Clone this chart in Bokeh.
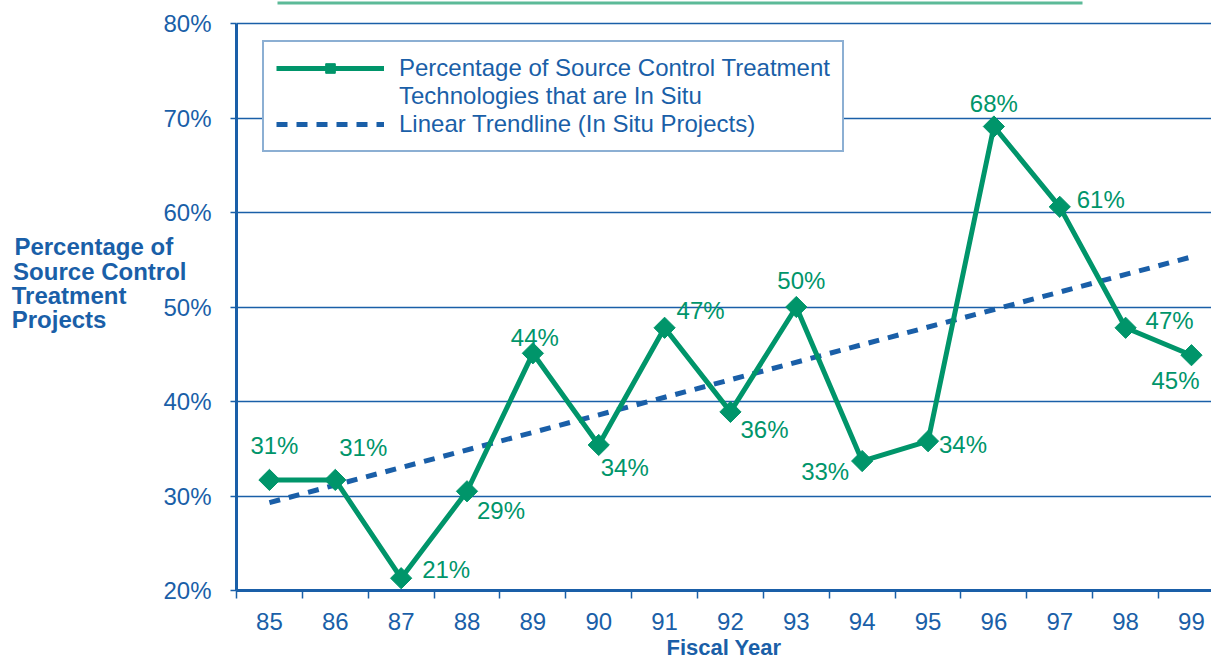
from bokeh.plotting import figure
from bokeh.models import (ColumnDataSource, FixedTicker, PrintfTickFormatter, Range1d,
                          Legend, LegendItem, BoxAnnotation)
from bokeh.embed import file_html
from bokeh.resources import INLINE
from bokeh.core.properties import value

# ---------------- data ----------------
years = [85, 86, 87, 88, 89, 90, 91, 92, 93, 94, 95, 96, 97, 98, 99]
pct_in_situ = [31.7, 31.7, 21.3, 30.5, 45.1, 35.4, 47.8, 38.9, 50.0, 33.7, 35.8, 69.1, 60.6, 47.8, 44.9]
point_labels = ["31%", "31%", "21%", "29%", "44%", "34%", "47%", "36%", "50%",
                "33%", "34%", "68%", "61%", "47%", "45%"]
trend_years = [85, 99]
trend_pct = [29.3, 55.3]
y_ticks = [20, 30, 40, 50, 60, 70, 80]
y_title_lines = ["Percentage of", "Source Control", "Treatment", "Projects"]

# label placement (style): pixel offsets from each point
lab_dx = [5, 28, 45, 34, 2, 26, 36, 34, 5, -37, 35, 0, 41, 44, -16]
lab_dy = [-34, -32, -9, 19, -16, 23, -17, 18, -27, 10, 3, -23, -7, -7, 25]

BLUE = "#1a5fa8"
GREEN = "#00956a"
LIGHT_GREEN = "#5cba98"
FONT = "Liberation Sans"
NBSP = "\u00a0"

# layout geometry (pixels)
W, H = 1211, 662
FRAME_LEFT, FRAME_BOTTOM_BORDER = 236, 72
PX_PER_PCT = 9.45          # vertical scale
PX_PER_YEAR = 65.86        # horizontal scale
TOP_GAP_PX = 23            # space above the 80% line
frame_h = H - FRAME_BOTTOM_BORDER
y_top = y_ticks[-1] + TOP_GAP_PX / PX_PER_PCT
x_start = years[0] - 0.5
x_end = x_start + (W - FRAME_LEFT) / PX_PER_YEAR

src = ColumnDataSource(dict(x=years, y=pct_in_situ, lab=point_labels, dx=lab_dx, dy=lab_dy))
tsrc = ColumnDataSource(dict(x=trend_years, y=trend_pct))

p = figure(width=W, height=H, output_backend="svg", toolbar_location=None,
           x_range=Range1d(x_start, x_end), y_range=Range1d(y_ticks[0], y_top),
           min_border_left=FRAME_LEFT, min_border_right=0, min_border_top=0,
           min_border_bottom=FRAME_BOTTOM_BORDER, outline_line_color=None,
           background_fill_color="white", border_fill_color="white")

# decorative rule along the very top of the page
p.add_layout(BoxAnnotation(left=x_start + 41 / PX_PER_YEAR, right=x_start + 846 / PX_PER_YEAR,
                           top=y_top - 1 / PX_PER_PCT, bottom=y_top - 4 / PX_PER_PCT,
                           fill_color=LIGHT_GREEN, fill_alpha=1.0, line_color=None))

# trendline
tr = p.line("x", "y", source=tsrc, line_color=BLUE, line_width=5, line_dash="11 9")
# series
ln = p.line("x", "y", source=src, line_color=GREEN, line_width=5)
mk = p.scatter("x", "y", source=src, marker="square", angle=0.785398, size=15,
               fill_color=GREEN, line_color=GREEN)
p.text("x", "y", text="lab", source=src, x_offset="dx", y_offset="dy",
       text_align="center", text_baseline="middle", text_color=GREEN,
       text_font=value(FONT), text_font_size="24px")

# axes
xa = p.xaxis[0]
xa.ticker = FixedTicker(ticks=years, minor_ticks=[y - 0.5 for y in years] + [years[-1] + 0.5])
xa.major_tick_line_color = None
xa.minor_tick_line_color = BLUE
xa.minor_tick_line_width = 1.5
xa.minor_tick_out = 8
xa.minor_tick_in = 0
xa.axis_line_color = BLUE
xa.axis_line_width = 3
xa.major_label_text_color = BLUE
xa.major_label_text_font = FONT
xa.major_label_text_font_size = "24px"
xa.major_label_standoff = 14
xa.axis_label = "Fiscal Year"
xa.axis_label_text_font = FONT
xa.axis_label_text_font_style = "bold"
xa.axis_label_text_font_size = "22px"
xa.axis_label_text_color = BLUE
xa.axis_label_standoff = 2

ya = p.yaxis[0]
ya.ticker = FixedTicker(ticks=y_ticks)
ya.bounds = (y_ticks[0], y_ticks[-1])
ya.formatter = PrintfTickFormatter(format="%d%%")
ya.major_tick_line_color = BLUE
ya.major_tick_line_width = 1.5
ya.major_tick_out = 6
ya.major_tick_in = 0
ya.minor_tick_line_color = None
ya.axis_line_color = BLUE
ya.axis_line_width = 3
ya.major_label_text_color = BLUE
ya.major_label_text_font = FONT
ya.major_label_text_font_size = "24px"
ya.major_label_standoff = 19
# horizontal, visually left-aligned title (lines padded with no-break spaces)
pad = [2, 0, 9, 12]
ya.axis_label = "\n".join(t + NBSP * n for t, n in zip(y_title_lines, pad)) + "\n" + NBSP
ya.axis_label_orientation = "horizontal"
ya.axis_label_text_font = FONT
ya.axis_label_text_font_style = "bold"
ya.axis_label_text_font_size = "24px"
ya.axis_label_text_line_height = 0.9
ya.axis_label_text_color = BLUE
ya.axis_label_standoff = -26

p.xgrid.visible = False
p.ygrid.ticker = FixedTicker(ticks=y_ticks)
p.ygrid.grid_line_color = BLUE
p.ygrid.grid_line_width = 1.5

# legend
legend = Legend(items=[
    LegendItem(label="Percentage of Source Control Treatment", renderers=[ln, mk]),
    LegendItem(label="Technologies that are In Situ", renderers=[]),
    LegendItem(label="Linear Trendline (In Situ Projects)", renderers=[tr]),
], location=(26, 438), margin=0, padding=12, spacing=0,
    glyph_width=108, glyph_height=24, label_height=24, label_standoff=15,
    label_text_font=FONT, label_text_font_size="24px", label_text_color=BLUE,
    border_line_color=BLUE, border_line_width=2, background_fill_color="white",
    background_fill_alpha=1.0)
p.add_layout(legend)

open("out.html", "w").write(file_html(p, INLINE))
